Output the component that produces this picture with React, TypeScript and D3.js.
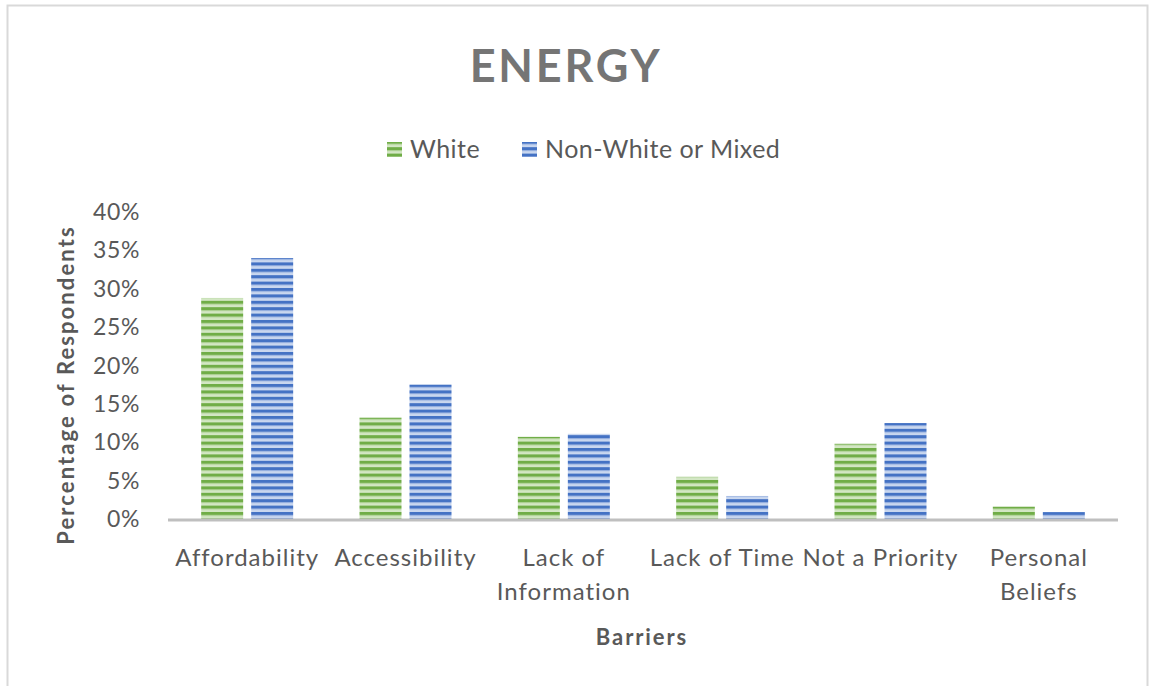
import React from "react";
import * as d3 from "d3";

const categories = [
  ["Affordability"],
  ["Accessibility"],
  ["Lack of", "Information"],
  ["Lack of Time"],
  ["Not a Priority"],
  ["Personal", "Beliefs"],
];
const seriesNames = ["White", "Non-White or Mixed"];
const whiteValues = [0.288, 0.132, 0.107, 0.055, 0.098, 0.016];
const nonWhiteValues = [0.34, 0.175, 0.111, 0.03, 0.125, 0.009];
const yTicks = [0, 0.05, 0.1, 0.15, 0.2, 0.25, 0.3, 0.35, 0.4];

const font = "Lato, 'Open Sans', sans-serif";
const W = 1150;
const H = 686;
const plot = { left: 168, right: 1118, top: 212, bottom: 519 };

const App = () => {
  const x = d3
    .scaleBand<number>()
    .domain(categories.map((_, i) => i))
    .range([plot.left, plot.right]);
  const inner = d3
    .scaleBand<number>()
    .domain([0, 1])
    .range([x.bandwidth() / 2 - 46, x.bandwidth() / 2 + 46])
    .paddingInner(0.16);
  const y = d3.scaleLinear().domain([0, 0.4]).range([plot.bottom, plot.top]);
  const fmt = d3.format(".0%");

  const series = [
    { name: seriesNames[0], values: whiteValues, pat: "pat-green" },
    { name: seriesNames[1], values: nonWhiteValues, pat: "pat-blue" },
  ];

  return (
    <svg
      width={W}
      height={H}
      style={{ position: "absolute", left: 0, top: 0, background: "#fff" }}
      fontFamily={font}
    >
      <defs>
        <pattern id="pat-green" width="8" height="6.4" patternUnits="userSpaceOnUse">
          <rect width="8" height="6.4" fill="#d3e7c4" />
          <rect y="0" width="8" height="3" fill="#70ad47" />
          <rect y="3" width="8" height="0.8" fill="#a4cc87" />
        </pattern>
        <pattern id="pat-blue" width="8" height="6.4" patternUnits="userSpaceOnUse">
          <rect width="8" height="6.4" fill="#c9d7ef" />
          <rect y="0" width="8" height="3" fill="#4472c4" />
          <rect y="3" width="8" height="0.8" fill="#89a6dc" />
        </pattern>
      </defs>
      <rect x={7.5} y={5.5} width={1140} height={700} fill="none" stroke="#d9d9d9" strokeWidth={2} />

      <text x={566} y={82} textAnchor="middle" fontSize={45} fontWeight="bold" fill="#757575" letterSpacing={2.8}>
        ENERGY
      </text>

      {/* legend */}
      <g fontSize={25} fill="#595959" letterSpacing={0.45}>
        <rect x={387} y={142} width={15} height={15} fill="url(#pat-green)" />
        <text x={410} y={158}>White</text>
        <rect x={522} y={142} width={15} height={15} fill="url(#pat-blue)" />
        <text x={545} y={158}>Non-White or Mixed</text>
      </g>

      {/* y ticks */}
      <g fontSize={23} fill="#595959" textAnchor="end" letterSpacing={0.6}>
        {yTicks.map((t) => (
          <text key={t} x={140} y={y(t) + 8}>
            {fmt(t)}
          </text>
        ))}
      </g>
      <text
        transform={`translate(74,385) rotate(-90)`}
        textAnchor="middle"
        fontSize={22}
        fontWeight="bold"
        fill="#595959"
        letterSpacing={2.1}
      >
        Percentage of Respondents
      </text>

      {/* bars */}
      {series.map((s, si) =>
        s.values.map((v, i) => (
          <rect
            key={`${si}-${i}`}
            x={(x(i) as number) + (inner(si) as number)}
            y={y(v)}
            width={inner.bandwidth()}
            height={y(0) - y(v)}
            fill={`url(#${s.pat})`}
          />
        ))
      )}

      <line x1={plot.left} x2={plot.right} y1={y(0) + 1} y2={y(0) + 1} stroke="#bfbfbf" strokeWidth={3} />

      {/* x labels */}
      <g fontSize={24} fill="#595959" textAnchor="middle" letterSpacing={1}>
        {categories.map((lines, i) => (
          <text key={i} x={(x(i) as number) + x.bandwidth() / 2} y={566}>
            {lines.map((l, li) => (
              <tspan key={li} x={(x(i) as number) + x.bandwidth() / 2} dy={li === 0 ? 0 : 34}>
                {l}
              </tspan>
            ))}
          </text>
        ))}
      </g>
      <text x={642} y={645} textAnchor="middle" fontSize={22} fontWeight="bold" fill="#595959" letterSpacing={1.9}>
        Barriers
      </text>
    </svg>
  );
};

export default App;
